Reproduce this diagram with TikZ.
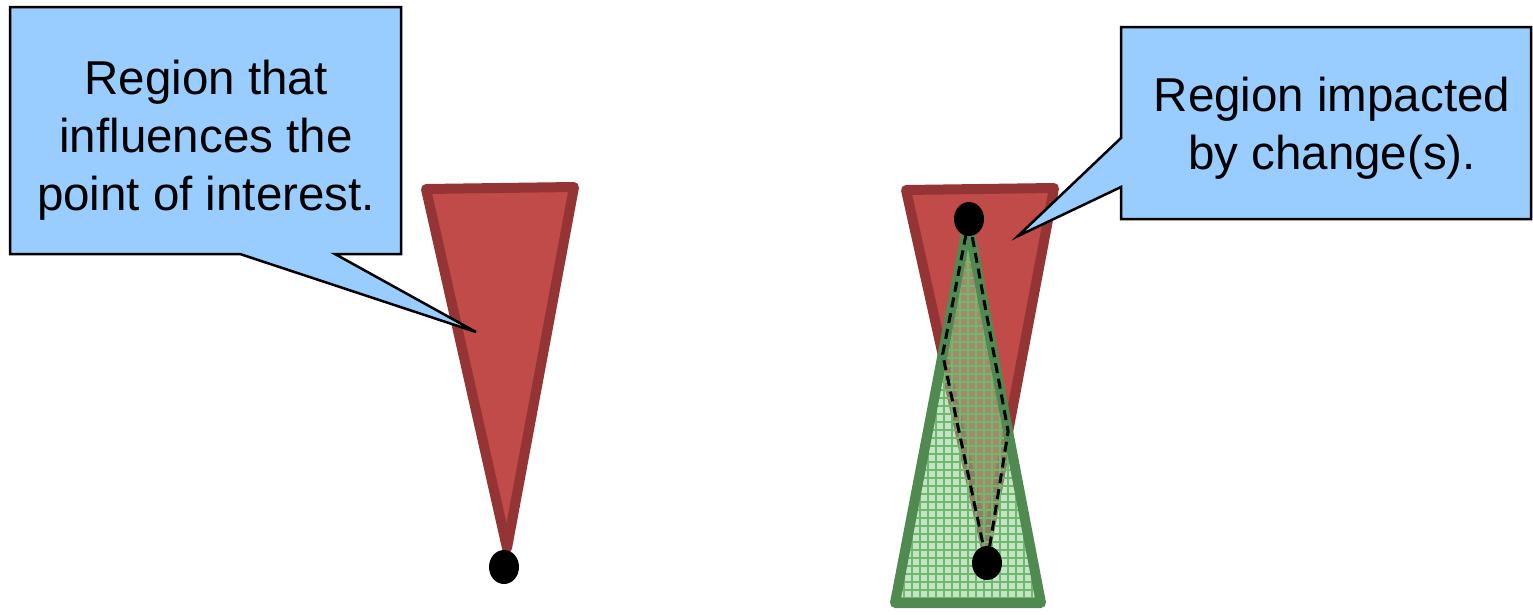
\documentclass[tikz,border=0pt]{standalone}
\usepackage{fontspec}
\setmainfont{Liberation Sans}
\usetikzlibrary{patterns,intersections}
\definecolor{calloutblue}{RGB}{153,204,255}
\definecolor{redfill}{RGB}{192,75,72}
\definecolor{redline}{RGB}{148,52,52}
\definecolor{greenline}{RGB}{80,138,80}
\definecolor{greenfill}{RGB}{140,200,140}
\definecolor{gridgreen}{RGB}{110,185,110}
\pgfdeclarepatternformonly{biggrid}{\pgfpoint{-1pt}{-1pt}}{\pgfpoint{8pt}{8pt}}{\pgfpoint{8pt}{8pt}}{%
  \pgfsetlinewidth{1.1pt}%
  \pgfpathmoveto{\pgfpoint{0pt}{-1pt}}\pgfpathlineto{\pgfpoint{0pt}{9pt}}%
  \pgfpathmoveto{\pgfpoint{-1pt}{0pt}}\pgfpathlineto{\pgfpoint{9pt}{0pt}}%
  \pgfusepath{stroke}}
\tikzset{
  callout/.style={draw=black, fill=calloutblue, line width=2.5pt, line join=miter},
  calltext/.style={align=center, font=\fontsize{47.5}{58}\selectfont, inner sep=0pt},
  redtri/.style={draw=redline, fill=redfill, line width=10pt, line join=round},
  greenborder/.style={draw=greenline, line width=10pt, line join=round},
  dashline/.style={draw=black, line width=3pt, dash pattern=on 10pt off 6pt},
  blackdot/.style={fill=black}
}
\begin{document}
\begin{tikzpicture}[x=1pt, y=-1pt]
\useasboundingbox (0,0) rectangle (1533,614);
% left red triangle
\coordinate (lTL) at (426,189);
\coordinate (lTR) at (574,187);
\coordinate (lA) at (507,548);
\path[redtri] (lTL) -- (lTR) -- (lA) -- cycle;
\fill[blackdot] (504,567) ellipse [x radius=15, y radius=17];
\node[coordinate] (ldot) at (504,567) {};
% left callout
\coordinate (lTip) at (476,332);
\path[callout] (10,7) -- (401,7) -- (401,254) -- (335,254) -- (lTip) -- (240,254) -- (10,254) -- cycle;
\node[calltext, anchor=base] (ltext) at (206,210) {Region that\\influences the\\point of interest.};
% right red triangle
\coordinate (rTL) at (906,190);
\coordinate (rTR) at (1054,188);
\coordinate (rA) at (986,549);
\path[redtri] (rTL) -- (rTR) -- (rA) -- cycle;
% green triangle
\coordinate (gA) at (968,222);
\coordinate (gBL) at (895,603);
\coordinate (gBR) at (1041,603);
\fill[greenfill, opacity=0.5] (gA) -- (gBL) -- (gBR) -- cycle;
\path[pattern=biggrid, pattern color=gridgreen] (gA) -- (gBL) -- (gBR) -- cycle;
\path[greenborder] (gA) -- (gBL) -- (gBR) -- cycle;
% overlap outline
\path[name path=redL] (rTL) -- (rA);
\path[name path=redR] (rTR) -- (rA);
\path[name path=grnL] (gA) -- (gBL);
\path[name path=grnR] (gA) -- (gBR);
\path[name intersections={of=redL and grnL, by=xL}];
\path[name intersections={of=redR and grnR, by=xR}];
\coordinate (dTop) at (969,219);
\coordinate (dBot) at (987,563);
\draw[dashline] (dTop) -- (xL) -- (dBot) -- (xR) -- cycle;
\fill[blackdot] (dTop) ellipse [x radius=15, y radius=17];
\fill[blackdot] (dBot) ellipse [x radius=15, y radius=17];
% right callout
\coordinate (rTip) at (1018,236);
\path[callout] (1121,27) -- (1531,27) -- (1531,219) -- (1121,219) -- (1121,187) -- (rTip) -- (1121,138) -- cycle;
\node[calltext, anchor=base] (rtext) at (1332,169) {Region impacted\\by change(s).};
\end{tikzpicture}
\end{document}
